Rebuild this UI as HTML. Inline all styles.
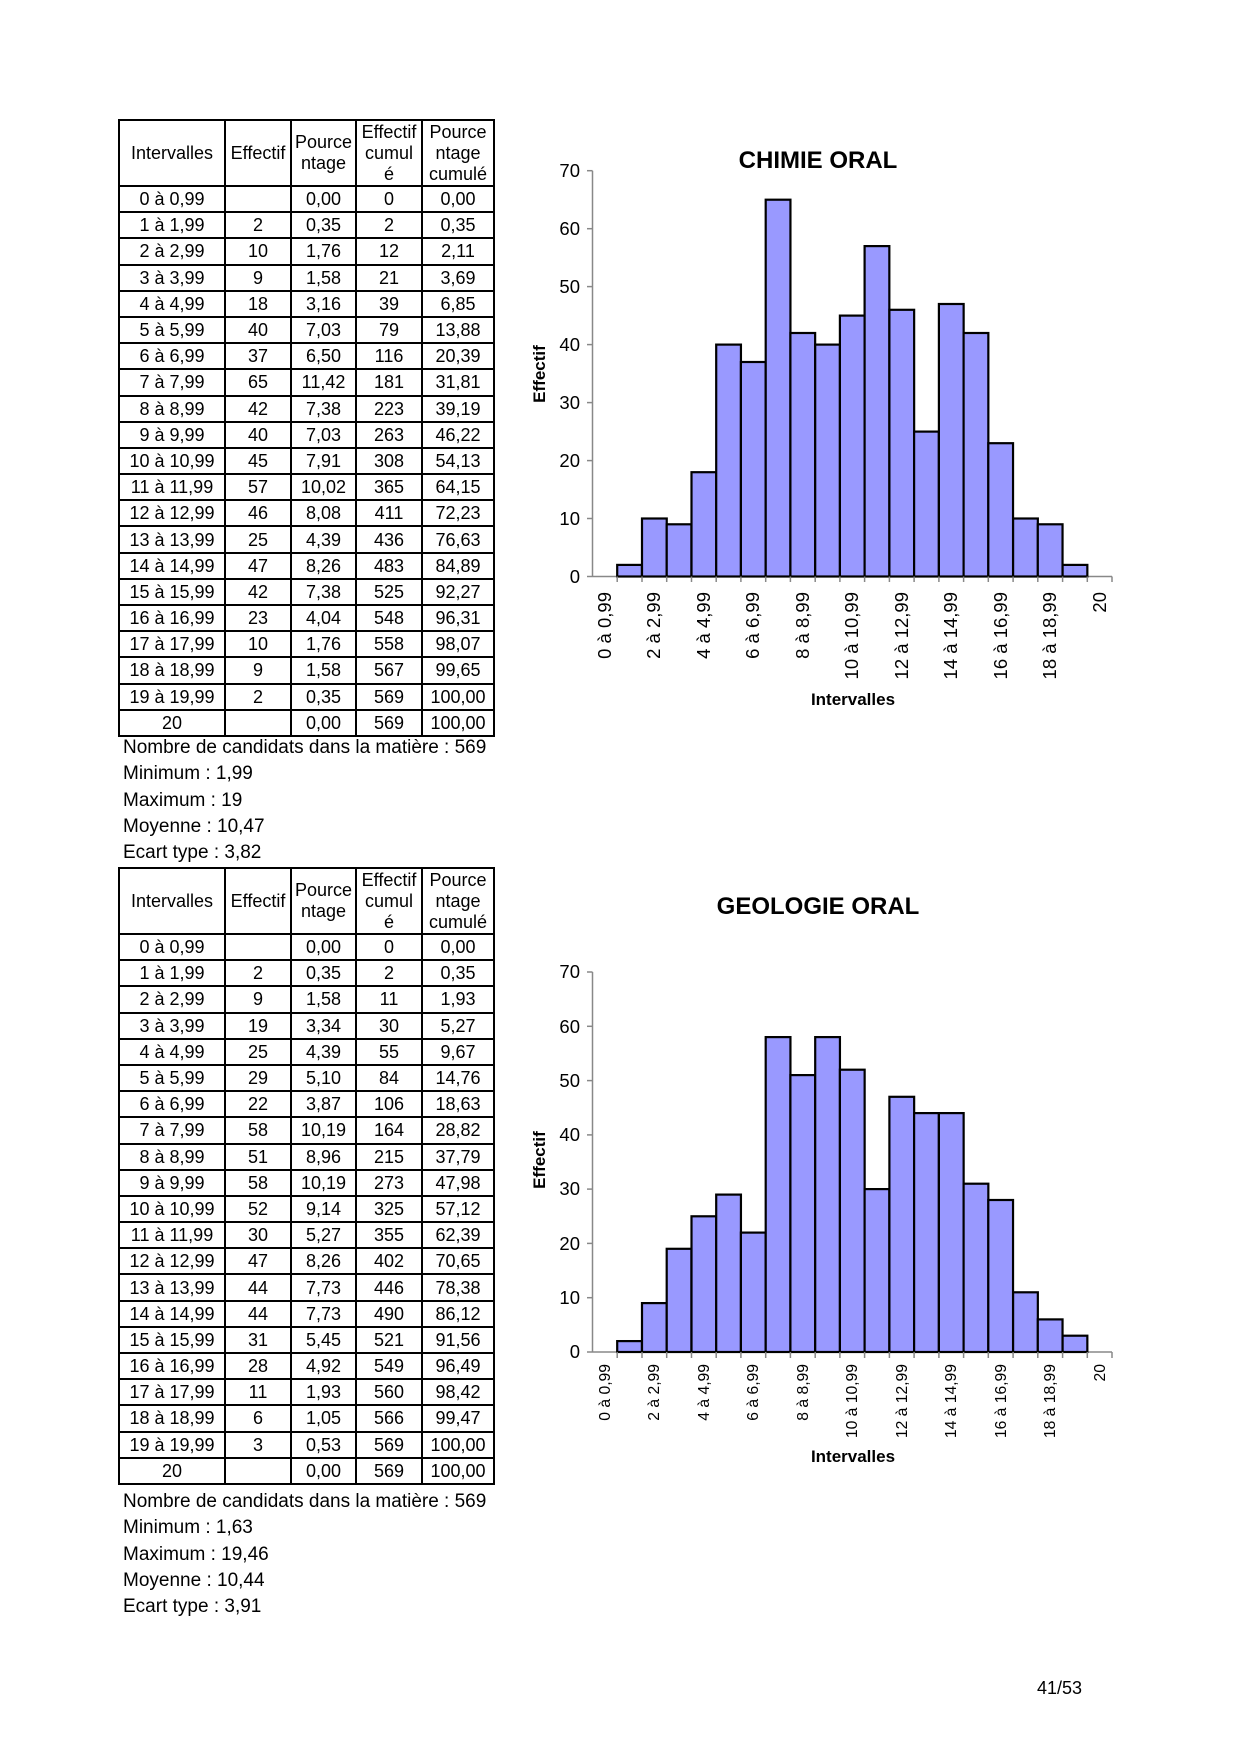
<!DOCTYPE html>
<html><head><meta charset="utf-8">
<style>
body{margin:0;background:#fff;}
.page{position:relative;width:1240px;height:1754px;overflow:hidden;font-family:"Liberation Sans",Arial,sans-serif;color:#000;}
table{position:absolute;left:118px;border-collapse:collapse;table-layout:fixed;font-size:18px;}
td{border:2px solid #000;padding:0;text-align:center;height:24.2px;line-height:24px;overflow:hidden;white-space:nowrap;}
tr.h td{height:64px;line-height:21px;white-space:normal;font-size:18px;}
.stats{position:absolute;left:123px;font-size:19px;line-height:26.3px;}
.pn{position:absolute;left:1037px;top:1678px;font-size:18px;}
svg{position:absolute;left:0;top:0;}
</style></head><body><div class="page">

<table style="top:119px;">
<colgroup><col style="width:106px"><col style="width:66px"><col style="width:65px"><col style="width:66px"><col style="width:72px"></colgroup>
<tr class="h"><td>Intervalles</td><td>Effectif</td><td>Pource ntage</td><td>Effectif cumul<br>é</td><td>Pource ntage cumulé</td></tr>
<tr><td>0 à 0,99</td><td></td><td>0,00</td><td>0</td><td>0,00</td></tr>
<tr><td>1 à 1,99</td><td>2</td><td>0,35</td><td>2</td><td>0,35</td></tr>
<tr><td>2 à 2,99</td><td>10</td><td>1,76</td><td>12</td><td>2,11</td></tr>
<tr><td>3 à 3,99</td><td>9</td><td>1,58</td><td>21</td><td>3,69</td></tr>
<tr><td>4 à 4,99</td><td>18</td><td>3,16</td><td>39</td><td>6,85</td></tr>
<tr><td>5 à 5,99</td><td>40</td><td>7,03</td><td>79</td><td>13,88</td></tr>
<tr><td>6 à 6,99</td><td>37</td><td>6,50</td><td>116</td><td>20,39</td></tr>
<tr><td>7 à 7,99</td><td>65</td><td>11,42</td><td>181</td><td>31,81</td></tr>
<tr><td>8 à 8,99</td><td>42</td><td>7,38</td><td>223</td><td>39,19</td></tr>
<tr><td>9 à 9,99</td><td>40</td><td>7,03</td><td>263</td><td>46,22</td></tr>
<tr><td>10 à 10,99</td><td>45</td><td>7,91</td><td>308</td><td>54,13</td></tr>
<tr><td>11 à 11,99</td><td>57</td><td>10,02</td><td>365</td><td>64,15</td></tr>
<tr><td>12 à 12,99</td><td>46</td><td>8,08</td><td>411</td><td>72,23</td></tr>
<tr><td>13 à 13,99</td><td>25</td><td>4,39</td><td>436</td><td>76,63</td></tr>
<tr><td>14 à 14,99</td><td>47</td><td>8,26</td><td>483</td><td>84,89</td></tr>
<tr><td>15 à 15,99</td><td>42</td><td>7,38</td><td>525</td><td>92,27</td></tr>
<tr><td>16 à 16,99</td><td>23</td><td>4,04</td><td>548</td><td>96,31</td></tr>
<tr><td>17 à 17,99</td><td>10</td><td>1,76</td><td>558</td><td>98,07</td></tr>
<tr><td>18 à 18,99</td><td>9</td><td>1,58</td><td>567</td><td>99,65</td></tr>
<tr><td>19 à 19,99</td><td>2</td><td>0,35</td><td>569</td><td>100,00</td></tr>
<tr><td>20</td><td></td><td>0,00</td><td>569</td><td>100,00</td></tr>
</table>
<div class="stats" style="top:735px;">Nombre de candidats dans la matière : 569<br>Minimum : 1,99<br>Maximum : 19<br>Moyenne : 10,47<br>Ecart type : 3,82</div>

<table style="top:867px;">
<colgroup><col style="width:106px"><col style="width:66px"><col style="width:65px"><col style="width:66px"><col style="width:72px"></colgroup>
<tr class="h"><td>Intervalles</td><td>Effectif</td><td>Pource ntage</td><td>Effectif cumul<br>é</td><td>Pource ntage cumulé</td></tr>
<tr><td>0 à 0,99</td><td></td><td>0,00</td><td>0</td><td>0,00</td></tr>
<tr><td>1 à 1,99</td><td>2</td><td>0,35</td><td>2</td><td>0,35</td></tr>
<tr><td>2 à 2,99</td><td>9</td><td>1,58</td><td>11</td><td>1,93</td></tr>
<tr><td>3 à 3,99</td><td>19</td><td>3,34</td><td>30</td><td>5,27</td></tr>
<tr><td>4 à 4,99</td><td>25</td><td>4,39</td><td>55</td><td>9,67</td></tr>
<tr><td>5 à 5,99</td><td>29</td><td>5,10</td><td>84</td><td>14,76</td></tr>
<tr><td>6 à 6,99</td><td>22</td><td>3,87</td><td>106</td><td>18,63</td></tr>
<tr><td>7 à 7,99</td><td>58</td><td>10,19</td><td>164</td><td>28,82</td></tr>
<tr><td>8 à 8,99</td><td>51</td><td>8,96</td><td>215</td><td>37,79</td></tr>
<tr><td>9 à 9,99</td><td>58</td><td>10,19</td><td>273</td><td>47,98</td></tr>
<tr><td>10 à 10,99</td><td>52</td><td>9,14</td><td>325</td><td>57,12</td></tr>
<tr><td>11 à 11,99</td><td>30</td><td>5,27</td><td>355</td><td>62,39</td></tr>
<tr><td>12 à 12,99</td><td>47</td><td>8,26</td><td>402</td><td>70,65</td></tr>
<tr><td>13 à 13,99</td><td>44</td><td>7,73</td><td>446</td><td>78,38</td></tr>
<tr><td>14 à 14,99</td><td>44</td><td>7,73</td><td>490</td><td>86,12</td></tr>
<tr><td>15 à 15,99</td><td>31</td><td>5,45</td><td>521</td><td>91,56</td></tr>
<tr><td>16 à 16,99</td><td>28</td><td>4,92</td><td>549</td><td>96,49</td></tr>
<tr><td>17 à 17,99</td><td>11</td><td>1,93</td><td>560</td><td>98,42</td></tr>
<tr><td>18 à 18,99</td><td>6</td><td>1,05</td><td>566</td><td>99,47</td></tr>
<tr><td>19 à 19,99</td><td>3</td><td>0,53</td><td>569</td><td>100,00</td></tr>
<tr><td>20</td><td></td><td>0,00</td><td>569</td><td>100,00</td></tr>
</table>
<div class="stats" style="top:1489px;">Nombre de candidats dans la matière : 569<br>Minimum : 1,63<br>Maximum : 19,46<br>Moyenne : 10,44<br>Ecart type : 3,91</div>

<div class="pn">41/53</div>

<svg width="1240" height="1754" xmlns="http://www.w3.org/2000/svg" font-family="Liberation Sans, Arial, sans-serif">
<!-- Chart 1 -->
<text x="818" y="168" font-size="24" font-weight="bold" text-anchor="middle">CHIMIE ORAL</text>
<g stroke="#888" stroke-width="1.5">
<line x1="592.5" y1="170.7" x2="592.5" y2="576.5"/><line x1="592.5" y1="576.5" x2="1112" y2="576.5"/>
<line x1="587" y1="170.7" x2="592.5" y2="170.7"/><line x1="587" y1="228.7" x2="592.5" y2="228.7"/><line x1="587" y1="286.6" x2="592.5" y2="286.6"/><line x1="587" y1="344.6" x2="592.5" y2="344.6"/><line x1="587" y1="402.6" x2="592.5" y2="402.6"/><line x1="587" y1="460.6" x2="592.5" y2="460.6"/><line x1="587" y1="518.5" x2="592.5" y2="518.5"/><line x1="587" y1="576.5" x2="592.5" y2="576.5"/>
</g>
<g font-size="18.5" text-anchor="end">
<text x="580" y="177">70</text><text x="580" y="235">60</text><text x="580" y="293">50</text><text x="580" y="351">40</text><text x="580" y="409">30</text><text x="580" y="467">20</text><text x="580" y="525">10</text><text x="580" y="583">0</text>
</g>
<g fill="#9999ff" stroke="#000" stroke-width="2.2">
<rect x="617.2" y="564.9" width="24.74" height="11.6"/>
<rect x="642.0" y="518.5" width="24.74" height="58"/>
<rect x="666.7" y="524.3" width="24.74" height="52.2"/>
<rect x="691.5" y="472.2" width="24.74" height="104.3"/>
<rect x="716.2" y="344.6" width="24.74" height="231.9"/>
<rect x="740.9" y="362.0" width="24.74" height="214.5"/>
<rect x="765.7" y="199.7" width="24.74" height="376.8"/>
<rect x="790.4" y="333.0" width="24.74" height="243.5"/>
<rect x="815.2" y="344.6" width="24.74" height="231.9"/>
<rect x="839.9" y="315.6" width="24.74" height="260.9"/>
<rect x="864.6" y="246.1" width="24.74" height="330.4"/>
<rect x="889.4" y="309.8" width="24.74" height="266.7"/>
<rect x="914.1" y="431.6" width="24.74" height="144.9"/>
<rect x="938.9" y="304.0" width="24.74" height="272.5"/>
<rect x="963.6" y="333.0" width="24.74" height="243.5"/>
<rect x="988.3" y="443.2" width="24.74" height="133.3"/>
<rect x="1013.1" y="518.5" width="24.74" height="58"/>
<rect x="1037.8" y="524.3" width="24.74" height="52.2"/>
<rect x="1062.6" y="564.9" width="24.74" height="11.6"/>
</g>
<g stroke="#888" stroke-width="1.5">
<line x1="617.2" y1="576.5" x2="617.2" y2="582"/><line x1="642" y1="576.5" x2="642" y2="582"/><line x1="666.7" y1="576.5" x2="666.7" y2="582"/><line x1="691.5" y1="576.5" x2="691.5" y2="582"/><line x1="716.2" y1="576.5" x2="716.2" y2="582"/><line x1="740.9" y1="576.5" x2="740.9" y2="582"/><line x1="765.7" y1="576.5" x2="765.7" y2="582"/><line x1="790.4" y1="576.5" x2="790.4" y2="582"/><line x1="815.2" y1="576.5" x2="815.2" y2="582"/><line x1="839.9" y1="576.5" x2="839.9" y2="582"/><line x1="864.6" y1="576.5" x2="864.6" y2="582"/><line x1="889.4" y1="576.5" x2="889.4" y2="582"/><line x1="914.1" y1="576.5" x2="914.1" y2="582"/><line x1="938.9" y1="576.5" x2="938.9" y2="582"/><line x1="963.6" y1="576.5" x2="963.6" y2="582"/><line x1="988.3" y1="576.5" x2="988.3" y2="582"/><line x1="1013.1" y1="576.5" x2="1013.1" y2="582"/><line x1="1037.8" y1="576.5" x2="1037.8" y2="582"/><line x1="1062.6" y1="576.5" x2="1062.6" y2="582"/><line x1="1087.3" y1="576.5" x2="1087.3" y2="582"/><line x1="1112" y1="576.5" x2="1112" y2="582"/>
</g>
<g font-size="18.5" text-anchor="end">
<text transform="translate(611,592) rotate(-90)">0 à 0,99</text>
<text transform="translate(660,592) rotate(-90)">2 à 2,99</text>
<text transform="translate(710,592) rotate(-90)">4 à 4,99</text>
<text transform="translate(759,592) rotate(-90)">6 à 6,99</text>
<text transform="translate(809,592) rotate(-90)">8 à 8,99</text>
<text transform="translate(858,592) rotate(-90)">10 à 10,99</text>
<text transform="translate(908,592) rotate(-90)">12 à 12,99</text>
<text transform="translate(957,592) rotate(-90)">14 à 14,99</text>
<text transform="translate(1007,592) rotate(-90)">16 à 16,99</text>
<text transform="translate(1056,592) rotate(-90)">18 à 18,99</text>
<text transform="translate(1106,592) rotate(-90)">20</text>
</g>
<text x="853" y="705" font-size="17" font-weight="bold" text-anchor="middle">Intervalles</text>
<text transform="translate(545,374) rotate(-90)" font-size="17" font-weight="bold" text-anchor="middle">Effectif</text>

<!-- Chart 2 -->
<text x="818" y="914" font-size="24" font-weight="bold" text-anchor="middle">GEOLOGIE ORAL</text>
<g stroke="#888" stroke-width="1.5">
<line x1="592.5" y1="972" x2="592.5" y2="1352"/><line x1="592.5" y1="1352" x2="1112" y2="1352"/>
<line x1="587" y1="972" x2="592.5" y2="972"/><line x1="587" y1="1026.3" x2="592.5" y2="1026.3"/><line x1="587" y1="1080.6" x2="592.5" y2="1080.6"/><line x1="587" y1="1134.9" x2="592.5" y2="1134.9"/><line x1="587" y1="1189.1" x2="592.5" y2="1189.1"/><line x1="587" y1="1243.4" x2="592.5" y2="1243.4"/><line x1="587" y1="1297.7" x2="592.5" y2="1297.7"/><line x1="587" y1="1352" x2="592.5" y2="1352"/>
</g>
<g font-size="18.5" text-anchor="end">
<text x="580" y="978">70</text><text x="580" y="1033">60</text><text x="580" y="1087">50</text><text x="580" y="1141">40</text><text x="580" y="1195">30</text><text x="580" y="1250">20</text><text x="580" y="1304">10</text><text x="580" y="1358">0</text>
</g>
<g fill="#9999ff" stroke="#000" stroke-width="2.2">
<rect x="617.2" y="1341.1" width="24.74" height="10.9"/>
<rect x="642.0" y="1303.1" width="24.74" height="48.9"/>
<rect x="666.7" y="1248.8" width="24.74" height="103.2"/>
<rect x="691.5" y="1216.3" width="24.74" height="135.7"/>
<rect x="716.2" y="1194.6" width="24.74" height="157.4"/>
<rect x="740.9" y="1232.6" width="24.74" height="119.4"/>
<rect x="765.7" y="1037.1" width="24.74" height="314.9"/>
<rect x="790.4" y="1075.1" width="24.74" height="276.9"/>
<rect x="815.2" y="1037.1" width="24.74" height="314.9"/>
<rect x="839.9" y="1069.7" width="24.74" height="282.3"/>
<rect x="864.6" y="1189.1" width="24.74" height="162.9"/>
<rect x="889.4" y="1096.8" width="24.74" height="255.2"/>
<rect x="914.1" y="1113.1" width="24.74" height="238.9"/>
<rect x="938.9" y="1113.1" width="24.74" height="238.9"/>
<rect x="963.6" y="1183.7" width="24.74" height="168.3"/>
<rect x="988.3" y="1200.0" width="24.74" height="152"/>
<rect x="1013.1" y="1292.3" width="24.74" height="59.7"/>
<rect x="1037.8" y="1319.4" width="24.74" height="32.6"/>
<rect x="1062.6" y="1335.7" width="24.74" height="16.3"/>
</g>
<g stroke="#888" stroke-width="1.5">
<line x1="617.2" y1="1352" x2="617.2" y2="1358"/><line x1="642" y1="1352" x2="642" y2="1358"/><line x1="666.7" y1="1352" x2="666.7" y2="1358"/><line x1="691.5" y1="1352" x2="691.5" y2="1358"/><line x1="716.2" y1="1352" x2="716.2" y2="1358"/><line x1="740.9" y1="1352" x2="740.9" y2="1358"/><line x1="765.7" y1="1352" x2="765.7" y2="1358"/><line x1="790.4" y1="1352" x2="790.4" y2="1358"/><line x1="815.2" y1="1352" x2="815.2" y2="1358"/><line x1="839.9" y1="1352" x2="839.9" y2="1358"/><line x1="864.6" y1="1352" x2="864.6" y2="1358"/><line x1="889.4" y1="1352" x2="889.4" y2="1358"/><line x1="914.1" y1="1352" x2="914.1" y2="1358"/><line x1="938.9" y1="1352" x2="938.9" y2="1358"/><line x1="963.6" y1="1352" x2="963.6" y2="1358"/><line x1="988.3" y1="1352" x2="988.3" y2="1358"/><line x1="1013.1" y1="1352" x2="1013.1" y2="1358"/><line x1="1037.8" y1="1352" x2="1037.8" y2="1358"/><line x1="1062.6" y1="1352" x2="1062.6" y2="1358"/><line x1="1087.3" y1="1352" x2="1087.3" y2="1358"/><line x1="1112" y1="1352" x2="1112" y2="1358"/>
</g>
<g font-size="15.7" text-anchor="end">
<text transform="translate(610,1364) rotate(-90)">0 à 0,99</text>
<text transform="translate(659,1364) rotate(-90)">2 à 2,99</text>
<text transform="translate(709,1364) rotate(-90)">4 à 4,99</text>
<text transform="translate(758,1364) rotate(-90)">6 à 6,99</text>
<text transform="translate(808,1364) rotate(-90)">8 à 8,99</text>
<text transform="translate(857,1364) rotate(-90)">10 à 10,99</text>
<text transform="translate(907,1364) rotate(-90)">12 à 12,99</text>
<text transform="translate(956,1364) rotate(-90)">14 à 14,99</text>
<text transform="translate(1006,1364) rotate(-90)">16 à 16,99</text>
<text transform="translate(1055,1364) rotate(-90)">18 à 18,99</text>
<text transform="translate(1105,1364) rotate(-90)">20</text>
</g>
<text x="853" y="1462" font-size="17" font-weight="bold" text-anchor="middle">Intervalles</text>
<text transform="translate(545,1160) rotate(-90)" font-size="17" font-weight="bold" text-anchor="middle">Effectif</text>
</svg>
</div></body></html>
